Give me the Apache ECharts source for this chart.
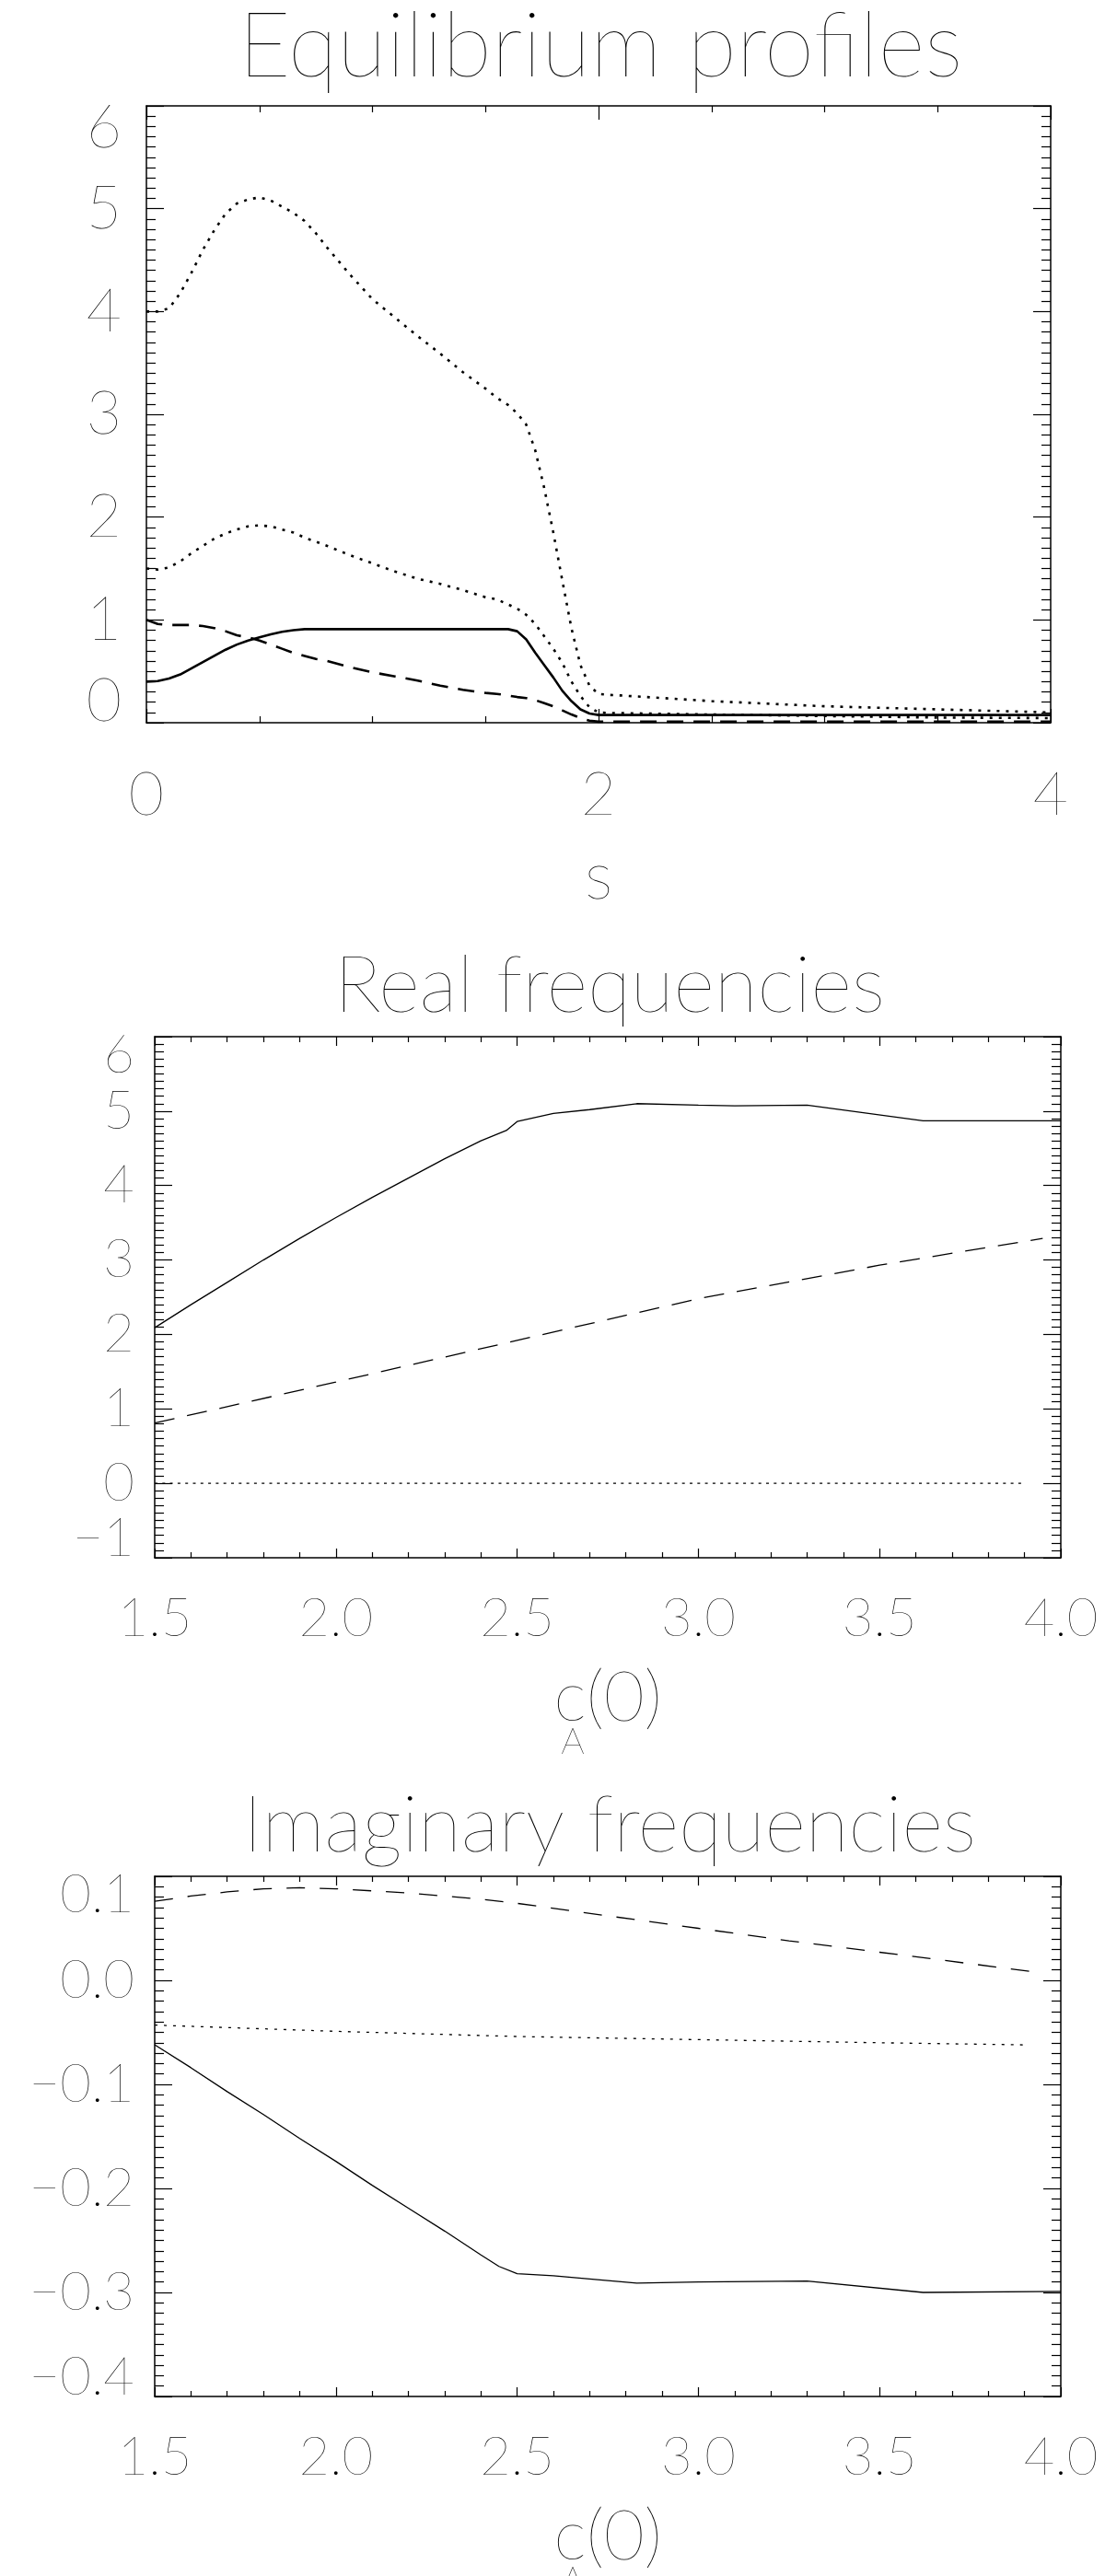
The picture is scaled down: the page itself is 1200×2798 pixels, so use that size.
<!DOCTYPE html>
<html><head><meta charset="utf-8">
<script src="https://cdn.jsdelivr.net/npm/echarts@6/dist/echarts.min.js"></script>
<style>html,body{margin:0;padding:0;background:#fff}#c{width:1200px;height:2798px}</style>
</head><body><div id="c"></div>
<script>
// ---------- Equilibrium profiles (top panel) ----------
const sGrid = [0,0.05,0.1,0.15,0.2,0.25,0.3,0.35,0.4,0.45,0.5,0.55,0.6,0.65,0.7,0.75,0.8,0.9,1.0,1.1,1.2,1.3,1.4,1.5,1.55,1.6,1.64,1.68,1.72,1.76,1.8,1.84,1.88,1.92,1.96,2.0,2.05,2.1,2.5,3.0,3.5,4.0];
const eqUpperDotted = [4.0,4.0,4.03,4.18,4.38,4.6,4.79,4.95,5.05,5.09,5.11,5.08,5.02,4.96,4.88,4.76,4.62,4.36,4.12,3.94,3.76,3.59,3.41,3.25,3.16,3.09,3.01,2.9,2.65,2.28,1.85,1.38,0.92,0.56,0.36,0.28,0.27,0.265,0.21,0.16,0.13,0.10];
const eqLowerDotted = [1.5,1.49,1.51,1.57,1.65,1.72,1.79,1.84,1.88,1.91,1.92,1.91,1.88,1.85,1.80,1.76,1.72,1.63,1.55,1.47,1.40,1.35,1.29,1.22,1.20,1.15,1.11,1.05,0.96,0.84,0.72,0.58,0.40,0.26,0.15,0.10,0.095,0.093,0.08,0.065,0.05,0.045];
const eqSolid = [0.40,0.405,0.43,0.47,0.53,0.59,0.65,0.71,0.76,0.80,0.83,0.86,0.885,0.90,0.91,0.91,0.91,0.91,0.91,0.91,0.91,0.91,0.91,0.91,0.91,0.91,0.89,0.81,0.68,0.56,0.44,0.31,0.21,0.13,0.09,0.075,0.075,0.075,0.075,0.075,0.075,0.075];
const eqDashed = [1.0,0.96,0.95,0.95,0.95,0.94,0.92,0.89,0.85,0.83,0.80,0.76,0.72,0.68,0.65,0.62,0.60,0.54,0.49,0.45,0.41,0.36,0.32,0.29,0.28,0.265,0.25,0.24,0.22,0.19,0.16,0.12,0.08,0.045,0.02,0.01,0.01,0.01,0.01,0.01,0.01,0.01];
const eqXTickValues = [0,2,4];
const eqXTickLabels = ['0','2','4'];
const eqYTickValues = [0,1,2,3,4,5,6];
const eqYTickLabels = ['0','1','2','3','4','5','6'];

// ---------- Real frequencies (middle panel) ----------
const reSolidX = [1.5,1.6,1.7,1.8,1.9,2.0,2.1,2.2,2.3,2.4,2.47,2.5,2.6,2.7,2.83,3.0,3.1,3.3,3.62,4.0];
const reSolid  = [2.09,2.40,2.70,3.00,3.29,3.57,3.84,4.10,4.36,4.60,4.74,4.86,4.97,5.02,5.10,5.08,5.07,5.08,4.87,4.87];
const reDashedX = [1.5,2.0,2.5,3.0,3.5,3.95];
const reDashed  = [0.81,1.36,1.92,2.48,2.93,3.29];
const reDottedX = [1.5,3.9];
const reDotted  = [0,0];
const caTickValues = [1.5,2.0,2.5,3.0,3.5,4.0];
const caTickLabels = ['1.5','2.0','2.5','3.0','3.5','4.0'];
const reYTickValues = [-1,0,1,2,3,4,5,6];
const reYTickLabels = ['\u22121','0','1','2','3','4','5','6'];

// ---------- Imaginary frequencies (bottom panel) ----------
const imSolidX = [1.5,1.6,1.7,1.8,1.9,2.0,2.1,2.2,2.3,2.4,2.45,2.5,2.6,2.7,2.83,3.0,3.3,3.62,4.0];
const imSolid  = [-0.062,-0.084,-0.107,-0.129,-0.152,-0.174,-0.197,-0.219,-0.241,-0.264,-0.275,-0.282,-0.284,-0.287,-0.291,-0.290,-0.289,-0.300,-0.299];
const imDashedX = [1.5,1.6,1.7,1.8,1.9,2.0,2.1,2.2,2.3,2.4,2.5,2.75,3.0,3.25,3.5,3.75,3.95];
const imDashed  = [0.076,0.081,0.085,0.088,0.089,0.088,0.086,0.084,0.081,0.078,0.074,0.062,0.050,0.038,0.027,0.016,0.007];
const imDottedX = [1.5,2.0,2.5,3.0,3.5,3.9];
const imDotted  = [-0.043,-0.049,-0.054,-0.057,-0.060,-0.062];
const imYTickValues = [-0.4,-0.3,-0.2,-0.1,0.0,0.1];
const imYTickLabels = ['\u22120.4','\u22120.3','\u22120.2','\u22120.1','0.0','0.1'];

// ---------- styling ----------
const FONT = 'Lato';
const FW = 200;
const INK = '#000';

function zip(xs, ys) { return xs.map((x, i) => [x, ys[i]]); }
function lookup(values, labels) {
  return function (v) {
    for (let i = 0; i < values.length; i++) if (Math.abs(v - values[i]) < 1e-6) return labels[i];
    return '';
  };
}
function yLookup(values, labels) {
  const n = values.length;
  return function (v) {
    for (let i = 0; i < n; i++) if (Math.abs(v - values[i]) < 1e-6) {
      const k = i === n - 1 ? 't' : (i === 0 ? 'b' : 'n');
      return '{' + k + '|' + labels[i] + '}';
    }
    return '';
  };
}
function axisBase(g, lo, hi, step, minorSplit, majLen, minLen) {
  return {
    type: 'value', gridIndex: g, min: lo, max: hi, interval: step,
    splitLine: { show: false },
    axisLine: { show: true, onZero: false, lineStyle: { color: INK, width: 1.5 } },
    axisTick: { show: true, inside: true, length: majLen, lineStyle: { color: INK, width: 1.2 } },
    minorTick: { show: true, splitNumber: minorSplit, length: minLen, lineStyle: { color: INK, width: 1.2 } },
    minorSplitLine: { show: false }
  };
}
function xAxes(g, lo, hi, step, minorSplit, majLen, minLen, vals, labs, fs, margin, name, nameGap, nameStyle) {
  const b = axisBase(g, lo, hi, step, minorSplit, majLen, minLen);
  b.position = 'bottom';
  b.axisLabel = { show: true, margin: margin, formatter: lookup(vals, labs), color: INK,
    fontFamily: FONT, fontWeight: FW, fontSize: fs, lineHeight: fs };
  b.name = name; b.nameLocation = 'middle'; b.nameGap = nameGap; b.nameTextStyle = nameStyle;
  const t = axisBase(g, lo, hi, step, minorSplit, majLen, minLen);
  t.position = 'top';
  t.axisLabel = { show: false };
  return [b, t];
}
function yAxes(g, lo, hi, step, minorSplit, majLen, minLen, vals, labs, fs, margin, shift) {
  const l = axisBase(g, lo, hi, step, minorSplit, majLen, minLen);
  l.position = 'left';
  l.axisLabel = { show: true, margin: margin, formatter: yLookup(vals, labs), color: INK,
    fontFamily: FONT, fontWeight: FW, fontSize: fs, lineHeight: fs,
    rich: {
      n: { fontFamily: FONT, fontWeight: FW, fontSize: fs, lineHeight: fs, color: INK },
      t: { fontFamily: FONT, fontWeight: FW, fontSize: fs, lineHeight: fs, color: INK, padding: [shift, 0, 0, 0] },
      b: { fontFamily: FONT, fontWeight: FW, fontSize: fs, lineHeight: fs, color: INK, padding: [0, 0, shift, 0] }
    } };
  const r = axisBase(g, lo, hi, step, minorSplit, majLen, minLen);
  r.position = 'right';
  r.axisLabel = { show: false };
  return [l, r];
}
function line(xi, yi, data, width, dash) {
  return { type: 'line', xAxisIndex: xi, yAxisIndex: yi, data: data, showSymbol: false, symbol: 'none',
    smooth: false, silent: true,
    lineStyle: { color: INK, width: width, type: dash || 'solid', cap: 'butt' } };
}
const caName = '{m|c}{m|(0)}\n{s|A}';
const caStyle = { color: INK, fontFamily: FONT, fontWeight: FW,
  rich: {
    m: { fontFamily: FONT, fontWeight: FW, fontSize: 76, lineHeight: 76, color: INK },
    s: { fontFamily: FONT, fontWeight: FW, fontSize: 40, lineHeight: 20, color: INK, align: 'left', padding: [0, 0, 0, 8] }
  } };
const titleStyle = (fs) => ({ fontFamily: FONT, fontWeight: FW, fontSize: fs, color: INK });

const x1 = xAxes(0, 0, 4, 2, 4, 15, 7, eqXTickValues, eqXTickLabels, 66, 46, 's', 132,
  { color: INK, fontFamily: FONT, fontWeight: FW, fontSize: 72, lineHeight: 72 });
const x2 = xAxes(1, 1.5, 4, 0.5, 5, 10, 6, caTickValues, caTickLabels, 58, 37, caName, 114, caStyle);
const x3 = xAxes(2, 1.5, 4, 0.5, 5, 10, 6, caTickValues, caTickLabels, 58, 37, caName, 114, caStyle);
const y1 = yAxes(0, 0, 6, 1, 10, 19, 10, eqYTickValues, eqYTickLabels, 66, 27, 47);
const y2 = yAxes(1, -1, 6, 1, 10, 19, 10, reYTickValues, reYTickLabels, 58, 22, 41);
const y3 = yAxes(2, -0.4, 0.1, 0.1, 10, 19, 10, imYTickValues, imYTickLabels, 58, 22, 41);

const option = {
  animation: false,
  backgroundColor: '#fff',
  title: [
    { text: 'Equilibrium profiles', left: 652, top: 2, textAlign: 'center', padding: 0, textStyle: titleStyle(98) },
    { text: 'Real frequencies', left: 662, top: 1028, textAlign: 'center', padding: 0, textStyle: titleStyle(86) },
    { text: 'Imaginary frequencies', left: 662, top: 1940, textAlign: 'center', padding: 0, textStyle: titleStyle(86) }
  ],
  grid: [
    { left: 159, top: 115, width: 982, height: 670, containLabel: false, outerBoundsMode: 'none' },
    { left: 168, top: 1126, width: 984, height: 566, containLabel: false, outerBoundsMode: 'none' },
    { left: 168, top: 2038, width: 984, height: 565, containLabel: false, outerBoundsMode: 'none' }
  ],
  xAxis: [x1[0], x1[1], x2[0], x2[1], x3[0], x3[1]],
  yAxis: [y1[0], y1[1], y2[0], y2[1], y3[0], y3[1]],
  series: [
    line(0, 0, zip(sGrid, eqUpperDotted), 2.6, [3, 7]),
    line(0, 0, zip(sGrid, eqLowerDotted), 2.6, [3, 7]),
    line(0, 0, zip(sGrid, eqSolid), 2.6),
    line(0, 0, zip(sGrid, eqDashed), 2.6, [18, 11]),
    line(2, 2, zip(reSolidX, reSolid), 1.3),
    line(2, 2, zip(reDashedX, reDashed), 1.3, [22, 14]),
    line(2, 2, zip(reDottedX, reDotted), 1.3, [3, 5.3]),
    line(4, 4, zip(imSolidX, imSolid), 1.3),
    line(4, 4, zip(imDashedX, imDashed), 1.3, [20, 16]),
    line(4, 4, zip(imDottedX, imDotted), 1.3, [3, 7])
  ]
};
const chart = echarts.init(document.getElementById('c'), null, { renderer: 'canvas', width: 1200, height: 2798 });
chart.setOption(option);
</script>
</body></html>
